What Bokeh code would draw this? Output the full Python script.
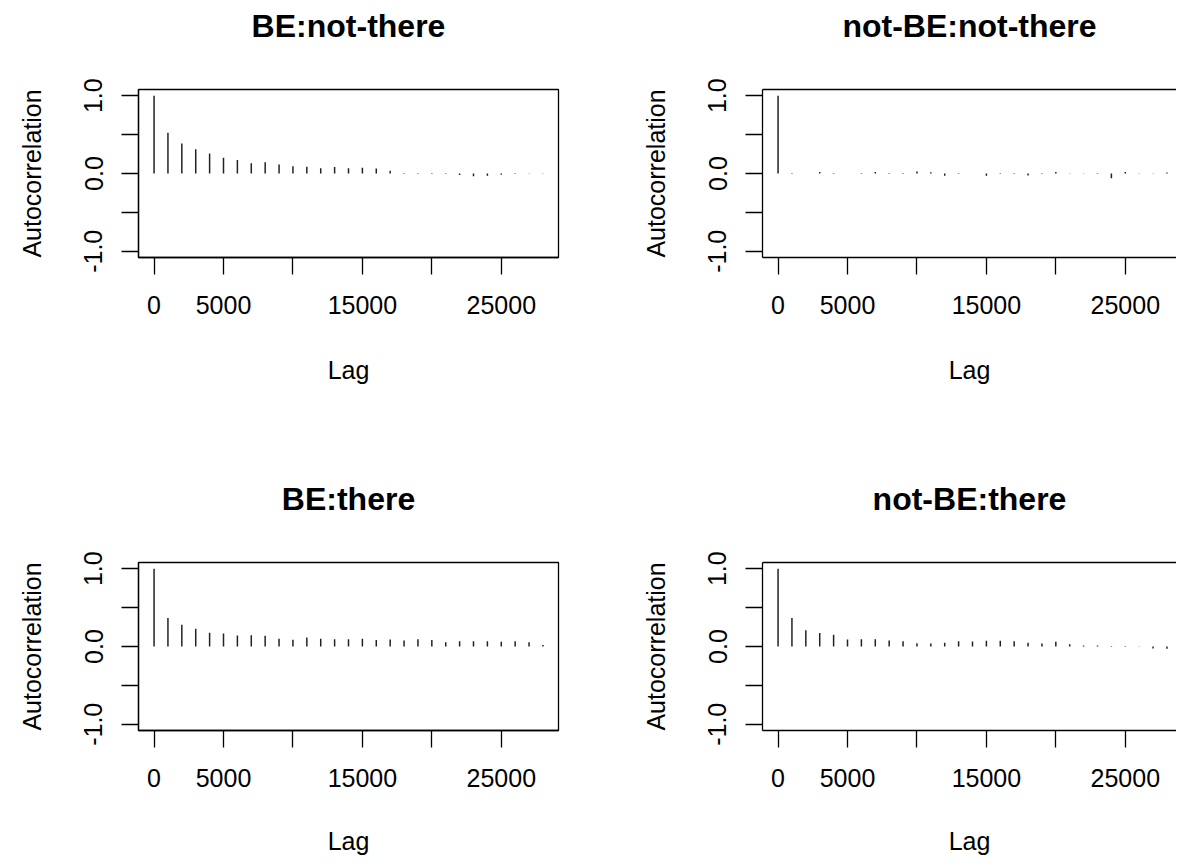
from bokeh.plotting import figure
from bokeh.layouts import column, row
from bokeh.models import Range1d, FixedTicker, LinearAxis, ColumnDataSource
from bokeh.embed import file_html
from bokeh.resources import INLINE

# ---- data ----
LAGS = [0, 1000, 2000, 3000, 4000, 5000, 6000, 7000, 8000, 9000,
        10000, 11000, 12000, 13000, 14000, 15000, 16000, 17000, 18000, 19000,
        20000, 21000, 22000, 23000, 24000, 25000, 26000, 27000, 28000]

TITLES = ["BE:not-there", "not-BE:not-there", "BE:there", "not-BE:there"]

ACF_BE_NOT_THERE = [1.0, 0.524, 0.386, 0.313, 0.258, 0.202, 0.172, 0.133, 0.146, 0.116,
                    0.094, 0.086, 0.069, 0.082, 0.069, 0.073, 0.064, 0.035, 0.005, -0.005,
                    -0.005, -0.008, -0.02, -0.035, -0.03, -0.015, -0.005, -0.004, 0.004]

ACF_NOTBE_NOT_THERE = [1.0, 0.005, 0.001, 0.02, 0.005, 0.001, -0.005, 0.02, -0.008, 0.005,
                       0.025, 0.015, -0.03, 0.005, 0.001, -0.03, 0.005, -0.008, -0.025, 0.005,
                       0.018, 0.004, 0.003, -0.005, -0.06, 0.02, 0.004, 0.004, 0.012]

ACF_BE_THERE = [1.0, 0.365, 0.279, 0.227, 0.176, 0.167, 0.142, 0.146, 0.137, 0.099,
                0.086, 0.116, 0.099, 0.094, 0.094, 0.099, 0.082, 0.09, 0.077, 0.094,
                0.082, 0.056, 0.069, 0.069, 0.069, 0.06, 0.069, 0.056, 0.02]

ACF_NOTBE_THERE = [1.0, 0.365, 0.21, 0.172, 0.15, 0.09, 0.094, 0.094, 0.077, 0.069,
                   0.043, 0.039, 0.047, 0.069, 0.064, 0.073, 0.073, 0.069, 0.047, 0.039,
                   0.06, 0.03, 0.013, 0.013, 0.008, -0.005, 0.003, -0.025, -0.03]

X_TICKS = [0, 5000, 10000, 15000, 20000, 25000]
X_LABELS = {0: "0", 5000: "5000", 10000: "", 15000: "15000", 20000: "", 25000: "25000"}
Y_TICKS = [-1.0, -0.5, 0.0, 0.5, 1.0]
Y_LABELS = {-1.0: "-1.0", -0.5: "", 0.0: "0.0", 0.5: "", 1.0: "1.0"}

FONT = "Liberation Sans"
LW = 1.3
BAR_W = 1.5


def style_axis(ax, ticks, labels, label_text, label_standoff, tick_standoff, vertical=False):
    ax.ticker = FixedTicker(ticks=ticks)
    ax.major_label_overrides = labels
    ax.axis_label = label_text
    ax.axis_label_standoff = label_standoff
    ax.axis_label_text_font = FONT
    ax.axis_label_text_font_size = "25px"
    ax.axis_label_text_font_style = "normal"
    ax.axis_label_text_color = "black"
    ax.major_label_text_font = FONT
    ax.major_label_text_font_size = "25px"
    ax.major_label_text_color = "black"
    ax.major_label_standoff = tick_standoff
    ax.major_tick_out = 17
    ax.major_tick_in = 0
    ax.minor_tick_out = 0
    ax.minor_tick_in = 0
    ax.major_tick_line_color = "black"
    ax.major_tick_line_width = LW
    ax.axis_line_color = "black"
    ax.axis_line_width = LW
    if vertical:
        ax.major_label_orientation = "vertical"


def make_panel(title, acf, right_side, bottom_row):
    if right_side:
        width, left, right, x_end = 588, 174, 0, 28688
    else:
        width, left, right, x_end = 588, 138, 30, 29120
    if bottom_row:
        height, bottom, lab_so = 391, 134, 37
    else:
        height, bottom, lab_so = 473, 216, 39

    p = figure(width=width, height=height,
               x_range=Range1d(-1120, x_end), y_range=Range1d(-1.08, 1.08),
               output_backend="svg", toolbar_location=None,
               min_border_left=left, min_border_right=right,
               min_border_top=89, min_border_bottom=bottom)
    p.background_fill_color = "white"
    p.border_fill_color = "white"
    p.xgrid.visible = False
    p.ygrid.visible = False

    style_axis(p.xaxis[0], X_TICKS, X_LABELS, "Lag", lab_so, 21)
    style_axis(p.yaxis[0], Y_TICKS, Y_LABELS, "Autocorrelation", 36, 19, vertical=True)

    # top axis: carries the panel title (and the top edge of the box on the right column)
    top = LinearAxis(ticker=FixedTicker(ticks=[]), major_tick_out=0, major_tick_in=0,
                     minor_tick_out=0, minor_tick_in=0, major_label_standoff=0,
                     major_label_text_font_size="0px",
                     axis_label=title, axis_label_standoff=46,
                     axis_label_text_font=FONT, axis_label_text_font_size="32px",
                     axis_label_text_font_style="bold", axis_label_text_color="black",
                     axis_line_color="black" if right_side else None,
                     axis_line_width=LW)
    p.add_layout(top, "above")

    if right_side:
        p.outline_line_color = None
    else:
        p.outline_line_color = "black"
        p.outline_line_width = LW
        p.outline_line_alpha = 1.0

    src = ColumnDataSource(data=dict(lag=LAGS, acf=acf))
    p.segment(x0="lag", y0=0, x1="lag", y1="acf", source=src,
              line_color="#222222", line_width=BAR_W)
    return p


f1 = make_panel(TITLES[0], ACF_BE_NOT_THERE, False, False)
f2 = make_panel(TITLES[1], ACF_NOTBE_NOT_THERE, True, False)
f3 = make_panel(TITLES[2], ACF_BE_THERE, False, True)
f4 = make_panel(TITLES[3], ACF_NOTBE_THERE, True, True)

layout = column(row(f1, f2), row(f3, f4))

open("out.html", "w").write(file_html(layout, INLINE))
